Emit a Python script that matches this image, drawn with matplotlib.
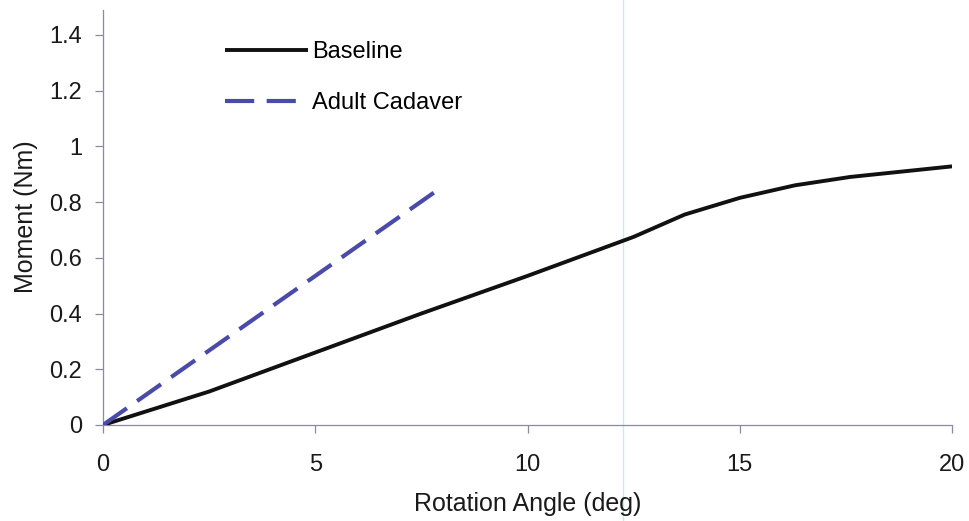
import matplotlib.pyplot as plt
import matplotlib as mpl
from matplotlib.transforms import blended_transform_factory

mpl.rcParams['font.family'] = ['Liberation Sans', 'DejaVu Sans']

# baseline moment curve
base_angle = [0, 2.5, 5, 7.5, 10, 12.5, 13.7, 15, 16.3, 17.6, 20]
base_moment = [0, 0.12, 0.26, 0.40, 0.535, 0.675, 0.755, 0.815, 0.86, 0.89, 0.928]

# adult cadaver (straight dashed line)
cad_angle = [0, 7.9]
cad_moment = [0, 0.845]

xticks = [0, 5, 10, 15, 20]
yticks = [0, 0.2, 0.4, 0.6, 0.8, 1, 1.2, 1.4]
ytick_labels = ['0', '0.2', '0.4', '0.6', '0.8', '1', '1.2', '1.4']

scan_line_x = 12.25  # faint cyan scanner streak

axis_col = '#8a8aa0'
txt_col = '#1a1a1a'

fig = plt.figure(figsize=(9.69, 5.21), dpi=100)
ax = fig.add_axes([0.1063, 0.1843, 0.8762, 0.797])

ax.plot(base_angle, base_moment, color='#111111', lw=2.8, label='Baseline',
        solid_capstyle='butt', zorder=3)
ax.plot(cad_angle, cad_moment, color='#4a4aa8', lw=3.0, dashes=(7, 3),
        label='Adult Cadaver', dash_capstyle='butt', zorder=3)

tr = blended_transform_factory(ax.transData, fig.transFigure)
ax.plot([scan_line_x, scan_line_x], [0, 1], transform=tr, color='#c4eef6',
        lw=1.0, clip_on=False, zorder=1)

ax.set_xlim(0, 20)
ax.set_ylim(0, 1.49)
ax.set_xticks(xticks)
ax.set_yticks(yticks)
ax.set_yticklabels(ytick_labels)

for s in ['top', 'right']:
    ax.spines[s].set_visible(False)
for s in ['left', 'bottom']:
    ax.spines[s].set_color(axis_col)
    ax.spines[s].set_linewidth(0.9)

ax.tick_params(axis='both', direction='out', length=6, width=0.9,
               color=axis_col, labelsize=17, labelcolor=txt_col)
ax.tick_params(axis='x', pad=15)
ax.tick_params(axis='y', pad=9)

ax.set_xlabel('Rotation Angle (deg)', fontsize=18, color=txt_col)
ax.set_ylabel('Moment (Nm)', fontsize=18, color=txt_col)
ax.xaxis.set_label_coords(0.5, -0.161)
ax.yaxis.set_label_coords(-0.0766, 0.502)

ax.legend(loc='upper left', bbox_to_anchor=(225 / 969, 1 - 41 / 521),
          bbox_transform=fig.transFigure, frameon=False, fontsize=17,
          handlelength=3.5, handletextpad=0.2, labelspacing=1.23,
          borderpad=0, borderaxespad=0)

fig.savefig('out.png', dpi=100)
